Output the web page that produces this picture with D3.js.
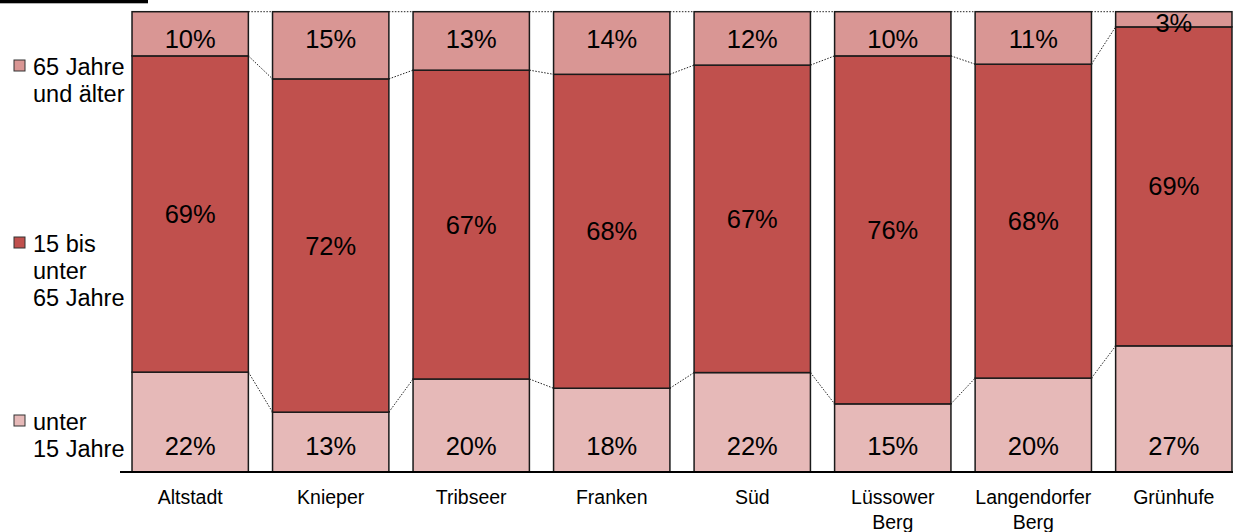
<!DOCTYPE html>
<html>
<head>
<meta charset="utf-8">
<script src="https://cdn.jsdelivr.net/npm/d3@7"></script>
<style>
  html, body { margin: 0; padding: 0; background: #fff; }
  svg { display: block; font-family: "Liberation Sans", Arial, sans-serif; }
</style>
</head>
<body>
<svg id="chart" width="1233" height="532"></svg>
<script>
// ---- data ----
const categories = ["Altstadt", "Knieper", "Tribseer", "Franken", "Süd", "Lüssower Berg", "Langendorfer Berg", "Grünhufe"];
const seriesKeys = ["unter 15 Jahre", "15 bis unter 65 Jahre", "65 Jahre und älter"];
const under15 = [21.7, 13.0, 20.2, 18.2, 21.6, 14.8, 20.4, 27.4];
const age15to65 = [68.7, 72.4, 67.1, 68.2, 66.8, 75.6, 68.2, 69.3];
const over65 = [9.6, 14.6, 12.7, 13.6, 11.6, 9.6, 11.4, 3.3];
const legendLines = [["65 Jahre", "und älter"], ["15 bis", "unter", "65 Jahre"], ["unter", "15 Jahre"]];
const colors = ["#E6B9B8", "#C0504D", "#D99694"];

const rows = categories.map((c, i) => ({
  cat: c,
  [seriesKeys[0]]: under15[i],
  [seriesKeys[1]]: age15to65[i],
  [seriesKeys[2]]: over65[i]
}));

const svg = d3.select("#chart");

const x = d3.scaleBand().domain(categories).range([120, 1244]).paddingInner(0.172).paddingOuter(0.0855);
const y = d3.scaleLinear().domain([0, 1]).range([472, 11.7]);

const stack = d3.stack().keys(seriesKeys).offset(d3.stackOffsetExpand);
const series = stack(rows);

// black bar top-left
svg.append("rect").attr("x", 0).attr("y", 0).attr("width", 148).attr("height", 3.3).attr("fill", "#000");

// series lines (dotted connectors)
const connectors = svg.append("g").attr("fill", "none").attr("stroke", "#222").attr("stroke-width", 1).attr("stroke-dasharray", "1.5,1.5");
series.forEach(s => {
  for (let i = 0; i < categories.length - 1; i++) {
    connectors.append("line")
      .attr("x1", x(categories[i]) + x.bandwidth())
      .attr("y1", y(s[i][1]))
      .attr("x2", x(categories[i + 1]))
      .attr("y2", y(s[i + 1][1]));
  }
});

// bars
const gBars = svg.append("g");
series.forEach((s, si) => {
  gBars.append("g").attr("fill", colors[si]).attr("stroke", "#1a1a1a").attr("stroke-width", 1.5)
    .selectAll("rect").data(s).join("rect")
    .attr("x", d => x(d.data.cat))
    .attr("y", d => y(d[1]))
    .attr("width", x.bandwidth())
    .attr("height", d => y(d[0]) - y(d[1]));
});

// value labels
const fmt = v => Math.round(v) + "%";
const gLab = svg.append("g").attr("fill", "#000").attr("text-anchor", "middle").attr("font-size", 25.5);
series.forEach((s, si) => {
  s.forEach((d, i) => {
    const cx = x(d.data.cat) + x.bandwidth() / 2;
    const top = y(d[1]), bot = y(d[0]);
    const val = d.data[seriesKeys[si]];
    let by;
    if (si === 0) {
      by = bot - 17;
    } else if (si === 2) {
      by = (bot - top) < 22 ? (top + bot) / 2 + 13 : top + 36.5;
    } else {
      by = (top + bot) / 2 + 9;
    }
    gLab.append("text").attr("x", cx).attr("y", by).text(fmt(val));
  });
});

// x axis
const axis = svg.append("g").attr("transform", "translate(0,472)");
axis.append("line").attr("x1", 120).attr("x2", 1233).attr("y1", 0).attr("y2", 0)
  .attr("stroke", "#000").attr("stroke-width", 2);
categories.forEach(c => {
  const words = c.split(" ");
  const t = axis.append("text").attr("text-anchor", "middle").attr("font-size", 19.5).attr("fill", "#000");
  words.forEach((w, k) => {
    t.append("tspan").attr("x", x(c) + x.bandwidth() / 2).attr("y", 32 + k * 24.5).text(w);
  });
});

// legend
const legendBase = [75, 252, 430];
const legendOrder = [2, 1, 0];
const lg = svg.append("g");
legendOrder.forEach((si, k) => {
  const b = legendBase[k];
  lg.append("rect").attr("x", 14).attr("y", b - 15).attr("width", 11).attr("height", 11)
    .attr("fill", colors[si]).attr("stroke", "#333").attr("stroke-width", 1);
  const t = lg.append("text").attr("font-size", 23.5).attr("fill", "#000");
  legendLines[k].forEach((line, j) => {
    t.append("tspan").attr("x", 33).attr("y", b + j * 27).text(line);
  });
});
</script>
</body>
</html>
